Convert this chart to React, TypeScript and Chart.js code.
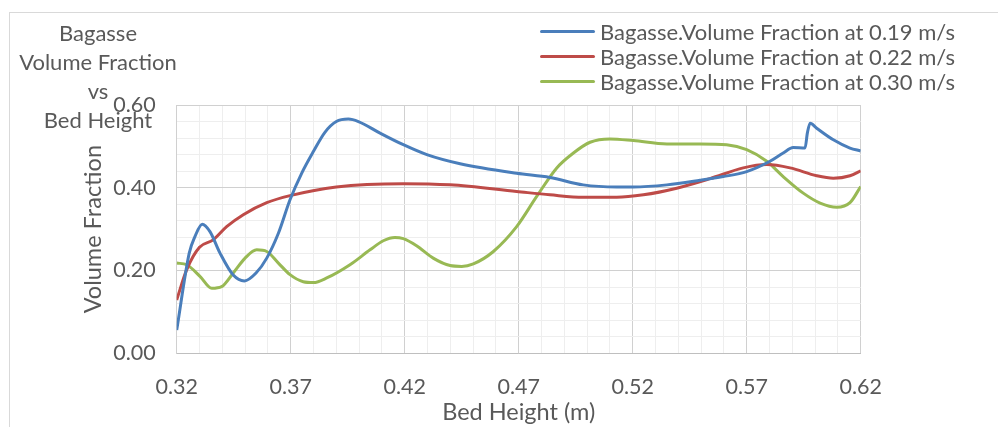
import React, { useEffect, useRef } from 'react';
import { Chart, registerables } from 'chart.js';

Chart.register(...registerables);

// ---- data ----
const seriesLabels = [
  'Bagasse.Volume Fraction at 0.19 m/s',
  'Bagasse.Volume Fraction at 0.22 m/s',
  'Bagasse.Volume Fraction at 0.30 m/s',
];

const blueX = [0.320, 0.3255, 0.328, 0.3312, 0.3346, 0.339, 0.3448, 0.3497, 0.3548, 0.3595, 0.3646, 0.3697, 0.3748, 0.380, 0.385, 0.390, 0.3953, 0.3997, 0.4092, 0.4194, 0.4297, 0.4443, 0.4691, 0.4837, 0.4983, 0.513, 0.5203, 0.535, 0.5495, 0.5597, 0.570, 0.5802, 0.586, 0.5904, 0.5956, 0.5966, 0.5978, 0.6007, 0.608, 0.6153, 0.620];
const blueY = [0.056, 0.242, 0.282, 0.312, 0.294, 0.242, 0.189, 0.175, 0.194, 0.230, 0.290, 0.371, 0.435, 0.488, 0.534, 0.560, 0.566, 0.560, 0.532, 0.504, 0.480, 0.458, 0.435, 0.425, 0.407, 0.402, 0.402, 0.407, 0.418, 0.427, 0.439, 0.464, 0.484, 0.497, 0.496, 0.532, 0.556, 0.544, 0.516, 0.496, 0.489];

const redX = [0.320, 0.3244, 0.330, 0.336, 0.3419, 0.3492, 0.3595, 0.3697, 0.390, 0.4194, 0.4399, 0.4691, 0.4837, 0.4983, 0.513, 0.5247, 0.5393, 0.5539, 0.5685, 0.5788, 0.589, 0.6007, 0.608, 0.6153, 0.620];
const redY = [0.129, 0.202, 0.256, 0.274, 0.306, 0.335, 0.364, 0.381, 0.402, 0.410, 0.407, 0.391, 0.383, 0.377, 0.377, 0.383, 0.399, 0.422, 0.448, 0.456, 0.448, 0.429, 0.423, 0.429, 0.441];

const greenX = [0.320, 0.3244, 0.3302, 0.3354, 0.3397, 0.3448, 0.350, 0.3551, 0.3595, 0.3646, 0.3697, 0.3755, 0.380, 0.3858, 0.396, 0.4048, 0.4106, 0.4157, 0.4194, 0.4252, 0.4325, 0.4399, 0.445, 0.4501, 0.4589, 0.4691, 0.4779, 0.4867, 0.494, 0.5013, 0.510, 0.5203, 0.535, 0.5495, 0.5612, 0.570, 0.5788, 0.586, 0.5948, 0.6022, 0.6095, 0.6153, 0.620];
const greenY = [0.218, 0.214, 0.186, 0.157, 0.161, 0.194, 0.230, 0.250, 0.246, 0.218, 0.190, 0.173, 0.171, 0.182, 0.214, 0.250, 0.272, 0.280, 0.277, 0.260, 0.230, 0.212, 0.210, 0.216, 0.246, 0.306, 0.379, 0.448, 0.484, 0.510, 0.518, 0.514, 0.506, 0.506, 0.504, 0.492, 0.464, 0.427, 0.387, 0.363, 0.353, 0.364, 0.403];

const titleLines = ['Bagasse', 'Volume Fraction', 'vs', 'Bed Height'];
const xAxisTitle = 'Bed Height (m)';
const yAxisTitle = 'Volume Fraction';
const xMin = 0.32;
const xMax = 0.62;
const yMin = 0;
const yMax = 0.6;

// ---- styles ----
const FONT = 'Lato, "Open Sans", sans-serif';
const TEXT = '#595959';
const COLORS = ['#4A7EBB', '#BE4B48', '#98B954'];
const MAJOR = '#d0d0d0';
const MINOR = '#eeeeee';

const isMajorX = (v: number) => Math.round(v * 100) % 5 === 2;
const isMajorY = (v: number) => Math.round(v * 100) % 20 === 0;

const toPts = (xs: number[], ys: number[]) => xs.map((x, i) => ({ x, y: ys[i] }));

export default function App() {
  const ref = useRef<HTMLCanvasElement>(null);

  useEffect(() => {
    const series = [toPts(blueX, blueY), toPts(redX, redY), toPts(greenX, greenY)];
    const chart = new Chart(ref.current as HTMLCanvasElement, {
      type: 'line',
      data: {
        datasets: series.map((d, i) => ({
          label: seriesLabels[i],
          data: d,
          borderColor: COLORS[i],
          backgroundColor: COLORS[i],
          borderWidth: 3,
          pointRadius: 0,
          fill: false,
          cubicInterpolationMode: 'monotone' as const,
        })),
      },
      options: {
        responsive: false,
        animation: false,
        layout: { padding: { left: 79, right: 137.3, top: 105, bottom: 0 } },
        plugins: {
          legend: { display: false },
          tooltip: { enabled: false },
          title: { display: false },
        },
        scales: {
          x: {
            type: 'linear',
            min: xMin,
            max: xMax,
            afterFit: (s: any) => { s.height = 73.7; },
            ticks: {
              stepSize: 0.01,
              autoSkip: false,
              maxRotation: 0,
              padding: 21,
              color: TEXT,
              font: { family: FONT, size: 21.5 },
              callback: (v: any) => (isMajorX(Number(v)) ? Number(v).toFixed(2) : ''),
            },
            grid: {
              drawTicks: false,
              color: (c: any) => (isMajorX(c.tick.value) ? MAJOR : MINOR),
              lineWidth: 1,
            },
            border: { display: true, color: '#bfbfbf', width: 1 },
            title: {
              display: true,
              text: xAxisTitle,
              color: TEXT,
              font: { family: FONT, size: 23.5 },
              padding: { top: 0, bottom: 0 },
            },
          },
          y: {
            type: 'linear',
            min: yMin,
            max: yMax,
            afterFit: (s: any) => { s.width = 97.7; },
            ticks: {
              stepSize: 0.04,
              autoSkip: false,
              padding: 21,
              color: TEXT,
              font: { family: FONT, size: 21.5 },
              callback: (v: any) => (isMajorY(Number(v)) ? Number(v).toFixed(2) : ''),
            },
            grid: {
              drawTicks: false,
              color: (c: any) => (isMajorY(c.tick.value) ? MAJOR : MINOR),
              lineWidth: 1,
            },
            border: { display: true, color: MAJOR, width: 1 },
            title: {
              display: true,
              text: yAxisTitle,
              color: TEXT,
              font: { family: FONT, size: 23.5 },
              padding: { top: 0, bottom: 0 },
            },
          },
        },
      },
    });
    return () => chart.destroy();
  }, []);

  return (
    <div style={{ position: 'absolute', left: 0, top: 0, width: 998, height: 427, overflow: 'hidden', background: '#fff' }}>
      <div style={{ position: 'absolute', left: 9, top: 12, width: 1000, height: 500, borderLeft: '1px solid #d9d9d9', borderTop: '1px solid #d9d9d9' }} />
      <canvas ref={ref} width={998} height={427} style={{ position: 'absolute', left: 0, top: 0 }} />
      <div style={{ position: 'absolute', left: 0, top: 18, width: 196, textAlign: 'center', fontFamily: FONT, fontSize: 22, lineHeight: '29px', color: TEXT }}>
        {titleLines.map((t) => (<div key={t}>{t}</div>))}
      </div>
      {seriesLabels.map((lab, i) => (
        <div key={lab} style={{ position: 'absolute', left: 540, top: 31 + i * 25 - 13, height: 26, display: 'flex', alignItems: 'center', fontFamily: FONT, fontSize: 22, color: TEXT, whiteSpace: 'nowrap' }}>
          <span style={{ display: 'inline-block', width: 55, height: 3, background: COLORS[i], borderRadius: 2, marginRight: 5 }} />
          <span>{lab}</span>
        </div>
      ))}
    </div>
  );
}
